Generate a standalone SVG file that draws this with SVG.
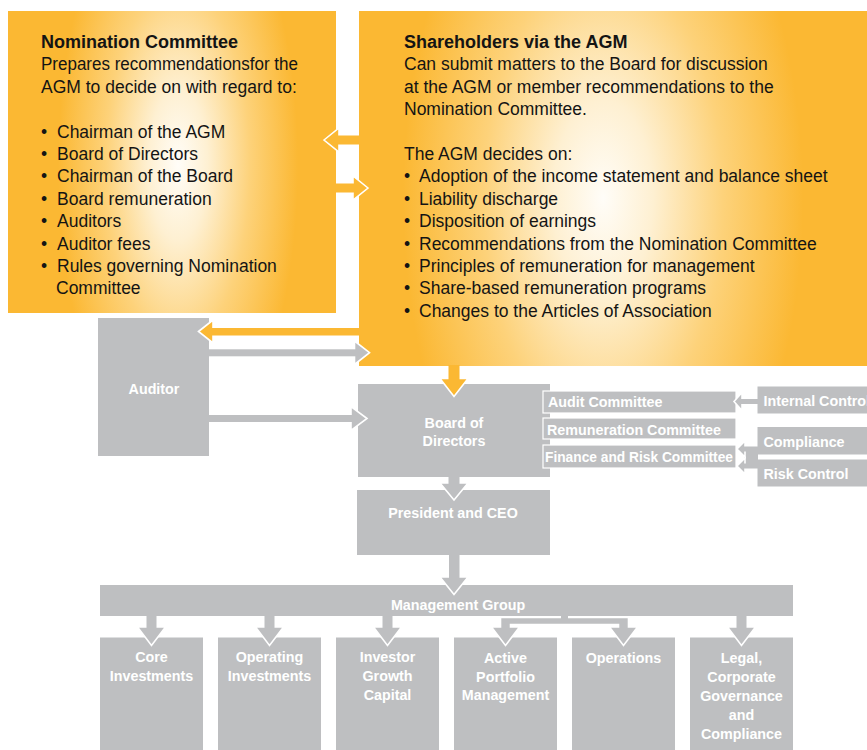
<svg xmlns="http://www.w3.org/2000/svg" width="867" height="750" viewBox="0 0 867 750">
<defs>
<radialGradient id="gN" gradientUnits="userSpaceOnUse" cx="0" cy="0" r="1" gradientTransform="translate(178 165) scale(120 300)">
<stop offset="0" stop-color="#FFFDF8"/>
<stop offset="0.25" stop-color="#FEF0D2"/>
<stop offset="0.6" stop-color="#FDD27A"/>
<stop offset="1" stop-color="#FBB833"/>
</radialGradient>
<radialGradient id="gS" gradientUnits="userSpaceOnUse" cx="0" cy="0" r="1" gradientTransform="translate(603 198) scale(200 390)">
<stop offset="0" stop-color="#FFFDF8"/>
<stop offset="0.25" stop-color="#FEF0D2"/>
<stop offset="0.6" stop-color="#FDD27A"/>
<stop offset="1" stop-color="#FBB833"/>
</radialGradient>
</defs>
<style>
.t{font-family:"Liberation Sans",Arial,sans-serif;font-size:17.5px;fill:#141414}
.h{font-weight:bold;font-size:18px}
.g{fill:#BEBFC1}
.o{fill:#FBB833}
.ah{stroke:#FFFFFF;stroke-width:1.6;stroke-linejoin:miter}
.cm{fill:#BEBFC1;stroke:#FFFFFF;stroke-width:1.2}
.l{font-family:"Liberation Sans",Arial,sans-serif;font-weight:bold;font-size:14.3px;fill:#FFFFFF}
.c{text-anchor:middle}
</style>

<g id="nomination">
<rect x="8" y="11" width="328" height="302" fill="url(#gN)"/>
<text class="t h" x="41" y="48">Nomination Committee</text>
<text class="t" x="41" y="70.4" textLength="257" lengthAdjust="spacingAndGlyphs">Prepares recommendationsfor the</text>
<text class="t" x="41" y="92.8">AGM to decide on with regard to:</text>
<text class="t" x="41" y="137.6">•</text><text class="t" x="57" y="137.6">Chairman of the AGM</text>
<text class="t" x="41" y="160">•</text><text class="t" x="57" y="160">Board of Directors</text>
<text class="t" x="41" y="182.4">•</text><text class="t" x="57" y="182.4">Chairman of the Board</text>
<text class="t" x="41" y="204.8">•</text><text class="t" x="57" y="204.8">Board remuneration</text>
<text class="t" x="41" y="227.2">•</text><text class="t" x="57" y="227.2">Auditors</text>
<text class="t" x="41" y="249.6">•</text><text class="t" x="57" y="249.6">Auditor fees</text>
<text class="t" x="41" y="272">•</text><text class="t" x="57" y="272">Rules governing Nomination</text>
<text class="t" x="56" y="294.4">Committee</text>
</g>

<g id="shareholders">
<rect x="359" y="11" width="510" height="355" fill="url(#gS)"/>
<text class="t h" x="404" y="48">Shareholders via the AGM</text>
<text class="t" x="404" y="70.4">Can submit matters to the Board for discussion</text>
<text class="t" x="404" y="92.8">at the AGM or member recommendations to the</text>
<text class="t" x="404" y="115.2">Nomination Committee.</text>
<text class="t" x="404" y="160">The AGM decides on:</text>
<text class="t" x="404" y="182.4">•</text><text class="t" x="419" y="182.4">Adoption of the income statement and balance sheet</text>
<text class="t" x="404" y="204.8">•</text><text class="t" x="419" y="204.8">Liability discharge</text>
<text class="t" x="404" y="227.2">•</text><text class="t" x="419" y="227.2">Disposition of earnings</text>
<text class="t" x="404" y="249.6">•</text><text class="t" x="419" y="249.6">Recommendations from the Nomination Committee</text>
<text class="t" x="404" y="272">•</text><text class="t" x="419" y="272">Principles of remuneration for management</text>
<text class="t" x="404" y="294.4">•</text><text class="t" x="419" y="294.4">Share-based remuneration programs</text>
<text class="t" x="404" y="316.8">•</text><text class="t" x="419" y="316.8">Changes to the Articles of Association</text>
</g>

<g id="auditor">
<rect class="g" x="98" y="318" width="111" height="138"/>
<text class="l c" x="154" y="394">Auditor</text>
</g>

<g id="board">
<rect class="g" x="358" y="384" width="192" height="93"/>
<text class="l c" x="454" y="428">Board of</text>
<text class="l c" x="454" y="446">Directors</text>
</g>

<g id="audit-committee">
<rect class="cm" x="543" y="391" width="193" height="22"/>
<text class="l" x="548" y="407">Audit Committee</text>
</g>
<g id="remuneration-committee">
<rect class="cm" x="543" y="418" width="193" height="21"/>
<text class="l" x="547" y="434.5">Remuneration Committee</text>
</g>
<g id="finance-risk-committee">
<rect class="cm" x="543" y="445" width="193" height="23"/>
<text class="l" x="545" y="462" textLength="188" lengthAdjust="spacingAndGlyphs">Finance and Risk Committee</text>
</g>

<g id="internal-control">
<rect class="g" x="757.5" y="386.5" width="115" height="27"/>
<text class="l" x="763.5" y="405.5">Internal Control</text>
</g>
<g id="compliance">
<rect class="g" x="757.5" y="427" width="115" height="27.5"/>
<text class="l" x="763.5" y="446.5">Compliance</text>
</g>
<g id="risk-control">
<rect class="g" x="757.5" y="459.5" width="115" height="27"/>
<text class="l" x="763.5" y="479">Risk Control</text>
</g>

<g id="ceo">
<rect class="g" x="357" y="490" width="193" height="65"/>
<text class="l c" x="453" y="518">President and CEO</text>
</g>

<g id="management-group">
<rect class="g" x="100" y="585" width="693" height="31"/>
<text class="l c" x="458" y="609.5">Management Group</text>
</g>

<g id="core-investments">
<rect class="g" x="100" y="637.5" width="103" height="120"/>
<text class="l c" x="151.5" y="662">Core</text>
<text class="l c" x="151.5" y="680.5">Investments</text>
</g>
<g id="operating-investments">
<rect class="g" x="218" y="637.5" width="103" height="120"/>
<text class="l c" x="269.5" y="662">Operating</text>
<text class="l c" x="269.5" y="680.5">Investments</text>
</g>
<g id="investor-growth-capital">
<rect class="g" x="336" y="637.5" width="103" height="120"/>
<text class="l c" x="387.5" y="662">Investor</text>
<text class="l c" x="387.5" y="681">Growth</text>
<text class="l c" x="387.5" y="700">Capital</text>
</g>
<g id="active-portfolio-management">
<rect class="g" x="454" y="637.5" width="103" height="120"/>
<text class="l c" x="505.5" y="663">Active</text>
<text class="l c" x="505.5" y="681.5">Portfolio</text>
<text class="l c" x="505.5" y="700">Management</text>
</g>
<g id="operations">
<rect class="g" x="572" y="637.5" width="103" height="120"/>
<text class="l c" x="623.5" y="663">Operations</text>
</g>
<g id="legal">
<rect class="g" x="690" y="637.5" width="103" height="120"/>
<text class="l c" x="741.5" y="663">Legal,</text>
<text class="l c" x="741.5" y="681.5">Corporate</text>
<text class="l c" x="741.5" y="701">Governance</text>
<text class="l c" x="741.5" y="720">and</text>
<text class="l c" x="741.5" y="739">Compliance</text>
</g>

<g id="connectors">
<!-- AGM -> Nomination -->
<polygon class="o ah" points="324,140 339,128 339,152"/>
<rect class="o" x="336" y="135.5" width="24" height="9"/>
<!-- Nomination -> AGM -->
<polygon class="o ah" points="368,188 353,176 353,200"/>
<rect class="o" x="335.5" y="183.5" width="19" height="9"/>
<!-- AGM -> Auditor -->
<polygon class="o ah" points="198.5,331.5 213,320 213,343"/>
<rect class="o" x="211" y="328" width="149" height="7.5"/>
<!-- Auditor -> AGM -->
<polygon class="g ah" points="369.5,352.7 354.5,341 354.5,364.5"/>
<rect class="g" x="209" y="349.3" width="147" height="7"/>
<!-- Auditor -> Board -->
<polygon class="g ah" points="367,418.5 351,406.5 351,430.5"/>
<rect class="g" x="209" y="415" width="144" height="7"/>
<!-- AGM -> Board -->
<polygon class="o ah" points="440,378.5 468,378.5 454,396.5"/>
<rect class="o" x="448.5" y="365" width="11" height="15"/>
<!-- Board -> CEO -->
<polygon class="g ah" points="440,483 468,483 454,500"/>
<rect class="g" x="448.5" y="476" width="11" height="9"/>
<!-- CEO -> Management Group -->
<polygon class="g ah" points="440,577 468,577 454,594.5"/>
<rect class="g" x="449" y="555" width="10.5" height="24"/>
<!-- Internal Control -> Audit Committee -->
<polygon class="g ah" points="734,401.5 742,392.5 742,410.5"/>
<rect class="g" x="740.5" y="399" width="17.5" height="5"/>
<!-- Compliance / Risk Control -> Finance and Risk Committee -->
<rect class="g" x="744" y="449" width="14" height="17"/>
<polygon class="g ah" points="737,449 745,441 745,457"/>
<rect class="g" x="743.5" y="446.5" width="14.5" height="5"/>
<polygon class="g ah" points="737,466 745,458 745,474"/>
<rect class="g" x="743.5" y="463.5" width="14.5" height="5"/>
<!-- Management Group -> units -->
<polygon class="g ah" points="137.5,627 165.5,627 151.5,645.5"/>
<rect class="g" x="146.5" y="615" width="10" height="14"/>
<polygon class="g ah" points="255.5,627 283.5,627 269.5,645.5"/>
<rect class="g" x="264.5" y="615" width="10" height="14"/>
<polygon class="g ah" points="373.5,627 401.5,627 387.5,645.5"/>
<rect class="g" x="382.5" y="615" width="10" height="14"/>
<polygon class="g ah" points="727.5,627 755.5,627 741.5,645.5"/>
<rect class="g" x="736.5" y="615" width="10" height="14"/>
<path class="g ah" d="M500.5 617.5 H628.5 V627 H637.5 L623.5 645.5 L609.5 627 H618.5 V624.5 H510.5 V627 H519.5 L505.5 645.5 L491.5 627 H500.5 Z"/>
<rect class="g" x="561" y="613" width="7" height="7"/>
</g>
</svg>
